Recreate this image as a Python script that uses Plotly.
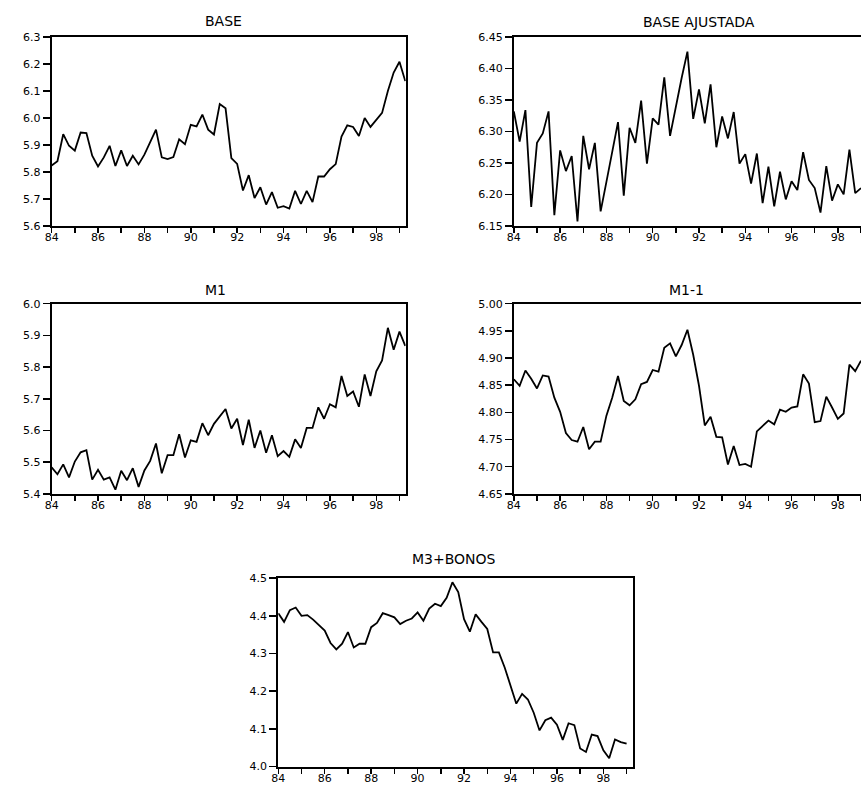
import numpy as np
import pandas as pd
import plotly.graph_objects as go

# ---------------- data (quarterly, 1984Q1 onward) ----------------
quarters = pd.period_range("1984Q1", "1999Q2", freq="Q")
x_dates = np.array(quarters.year + (quarters.quarter - 1) / 4.0, dtype=float)

base = [5.824, 5.840, 5.940, 5.897, 5.879, 5.946, 5.944, 5.860, 5.820, 5.854,
        5.897, 5.822, 5.880, 5.822, 5.860, 5.828, 5.864, 5.909, 5.957, 5.854,
        5.848, 5.855, 5.921, 5.903, 5.975, 5.969, 6.013, 5.957, 5.939, 6.052,
        6.036, 5.851, 5.830, 5.731, 5.788, 5.703, 5.743, 5.679, 5.725, 5.667,
        5.673, 5.664, 5.730, 5.681, 5.730, 5.688, 5.783, 5.783, 5.810, 5.829,
        5.931, 5.973, 5.967, 5.933, 6.000, 5.967, 5.991, 6.019, 6.100, 6.169,
        6.209, 6.137]

base_ajustada = [6.332, 6.284, 6.334, 6.180, 6.282, 6.297, 6.332, 6.167, 6.270, 6.237,
                 6.261, 6.157, 6.293, 6.240, 6.282, 6.173, 6.220, 6.269, 6.315, 6.198,
                 6.306, 6.282, 6.349, 6.249, 6.321, 6.311, 6.386, 6.293, 6.340, 6.385,
                 6.427, 6.320, 6.367, 6.313, 6.375, 6.275, 6.324, 6.289, 6.331, 6.249,
                 6.264, 6.217, 6.265, 6.186, 6.244, 6.181, 6.236, 6.192, 6.221, 6.207,
                 6.267, 6.223, 6.210, 6.171, 6.245, 6.190, 6.216, 6.200, 6.271, 6.202,
                 6.210]

m1 = [5.484, 5.462, 5.493, 5.452, 5.502, 5.531, 5.538, 5.445, 5.476, 5.445,
      5.452, 5.413, 5.473, 5.443, 5.481, 5.422, 5.474, 5.504, 5.559, 5.465,
      5.522, 5.522, 5.588, 5.515, 5.569, 5.564, 5.623, 5.585, 5.621, 5.644,
      5.668, 5.606, 5.637, 5.554, 5.634, 5.545, 5.600, 5.530, 5.585, 5.519,
      5.535, 5.517, 5.572, 5.545, 5.608, 5.608, 5.673, 5.637, 5.683, 5.673,
      5.772, 5.709, 5.723, 5.675, 5.777, 5.709, 5.787, 5.821, 5.924, 5.855,
      5.912, 5.867]

m1_1 = [4.861, 4.849, 4.877, 4.862, 4.844, 4.868, 4.866, 4.827, 4.801, 4.762,
        4.749, 4.746, 4.773, 4.732, 4.746, 4.746, 4.794, 4.827, 4.867, 4.821,
        4.813, 4.824, 4.852, 4.856, 4.878, 4.875, 4.919, 4.927, 4.903, 4.924,
        4.952, 4.906, 4.849, 4.776, 4.792, 4.755, 4.754, 4.704, 4.738, 4.703,
        4.705, 4.700, 4.765, 4.775, 4.785, 4.778, 4.805, 4.801, 4.809, 4.811,
        4.870, 4.853, 4.782, 4.784, 4.829, 4.809, 4.788, 4.798, 4.888, 4.876,
        4.895]

m3_bonos = [4.407, 4.384, 4.415, 4.422, 4.400, 4.402, 4.390, 4.376, 4.361, 4.328,
            4.311, 4.326, 4.357, 4.316, 4.326, 4.326, 4.370, 4.381, 4.407, 4.402,
            4.396, 4.378, 4.387, 4.393, 4.409, 4.387, 4.419, 4.432, 4.426, 4.448,
            4.489, 4.463, 4.391, 4.358, 4.404, 4.384, 4.365, 4.303, 4.303, 4.263,
            4.213, 4.167, 4.193, 4.178, 4.143, 4.096, 4.123, 4.130, 4.111, 4.071,
            4.115, 4.110, 4.048, 4.039, 4.085, 4.081, 4.043, 4.022, 4.072, 4.065,
            4.061]

titles = ["BASE", "BASE AJUSTADA", "M1", "M1-1", "M3+BONOS"]
series = [base, base_ajustada, m1, m1_1, m3_bonos]
y_ranges = [(5.6, 6.3), (6.15, 6.45), (5.4, 6.0), (4.65, 5.00), (4.0, 4.5)]
y_steps = [0.1, 0.05, 0.1, 0.05, 0.1]
y_formats = [".1f", ".2f", ".1f", ".2f", ".1f"]

year_ticks = list(range(1984, 2000))
year_labels = [str(y)[2:] if y % 2 == 0 else "" for y in year_ticks]

# ---------------- layout geometry (pixels) ----------------
W, H = 861, 792
# (left, right, top, bottom) in pixels; right panels are cut by the page edge
boxes = [(45, 402, 31.7, 223.5),
         (511, 861, 31.7, 223.5),
         (45, 402, 302.7, 496.0),
         (511, 861, 302.7, 496.0),
         (273.5, 631, 581.7, 773.3)]
x_ranges = [(1984, 1999.27), (1984, 1999.0), (1984, 1999.27), (1984, 1999.0), (1984, 1999.27)]
clipped = [False, True, False, True, False]
title_pos = [(218, 15.5), (698, 16), (210, 289), (685, 289), (451, 562.5)]

FONT = "DejaVu Sans, Liberation Sans, Arial, sans-serif"

fig = go.Figure()
layout = dict(
    width=W, height=H,
    margin=dict(l=0, r=0, t=0, b=0, pad=0),
    paper_bgcolor="white", plot_bgcolor="white",
    showlegend=False,
    font=dict(family=FONT, size=11, color="black"),
    annotations=[],
)

for i, (ttl, ys) in enumerate(zip(titles, series)):
    k = "" if i == 0 else str(i + 1)
    fig.add_trace(go.Scatter(
        x=x_dates[:len(ys)], y=ys, mode="lines",
        line=dict(color="black", width=1.8),
        xaxis="x" + k, yaxis="y" + k, hoverinfo="skip",
    ))
    l, r, t, b = boxes[i]
    lo, hi = y_ranges[i]
    nt = int(round((hi - lo) / y_steps[i]))
    yt = [round(lo + j * y_steps[i], 3) for j in range(nt + 1)]
    layout["xaxis" + k] = dict(
        domain=[l / W, r / W], anchor="y" + k,
        range=list(x_ranges[i]),
        tickmode="array", tickvals=year_ticks, ticktext=year_labels,
        ticks="outside", ticklen=5, tickwidth=1.5, tickcolor="black",
        ticklabelstandoff=-5,
        showline=True, linecolor="black", linewidth=2, mirror=True,
        showgrid=False, zeroline=False,
        tickfont=dict(family=FONT, size=11, color="black"),
        fixedrange=True,
    )
    layout["yaxis" + k] = dict(
        domain=[1 - b / H, 1 - t / H], anchor="x" + k,
        range=[lo - 1e-6, hi + 1e-6],
        tickmode="array", tickvals=yt, tickformat=y_formats[i],
        ticks="outside", ticklen=7, tickwidth=1.5, tickcolor="black",
        showline=True, linecolor="black", linewidth=2,
        mirror=not clipped[i],
        showgrid=False, zeroline=False,
        tickfont=dict(family=FONT, size=11, color="black"),
        fixedrange=True,
    )
    tx, ty = title_pos[i]
    layout["annotations"].append(dict(
        text=ttl, x=tx / W, y=1 - ty / H, xref="paper", yref="paper",
        xanchor="center", yanchor="middle", showarrow=False,
        font=dict(family=FONT, size=14, color="black"),
    ))

fig.update_layout(**layout)
fig.write_html("out.html",
               config={"displayModeBar": False, "staticPlot": True},
               post_script="document.body.style.margin='0';document.body.style.overflow='hidden';")
